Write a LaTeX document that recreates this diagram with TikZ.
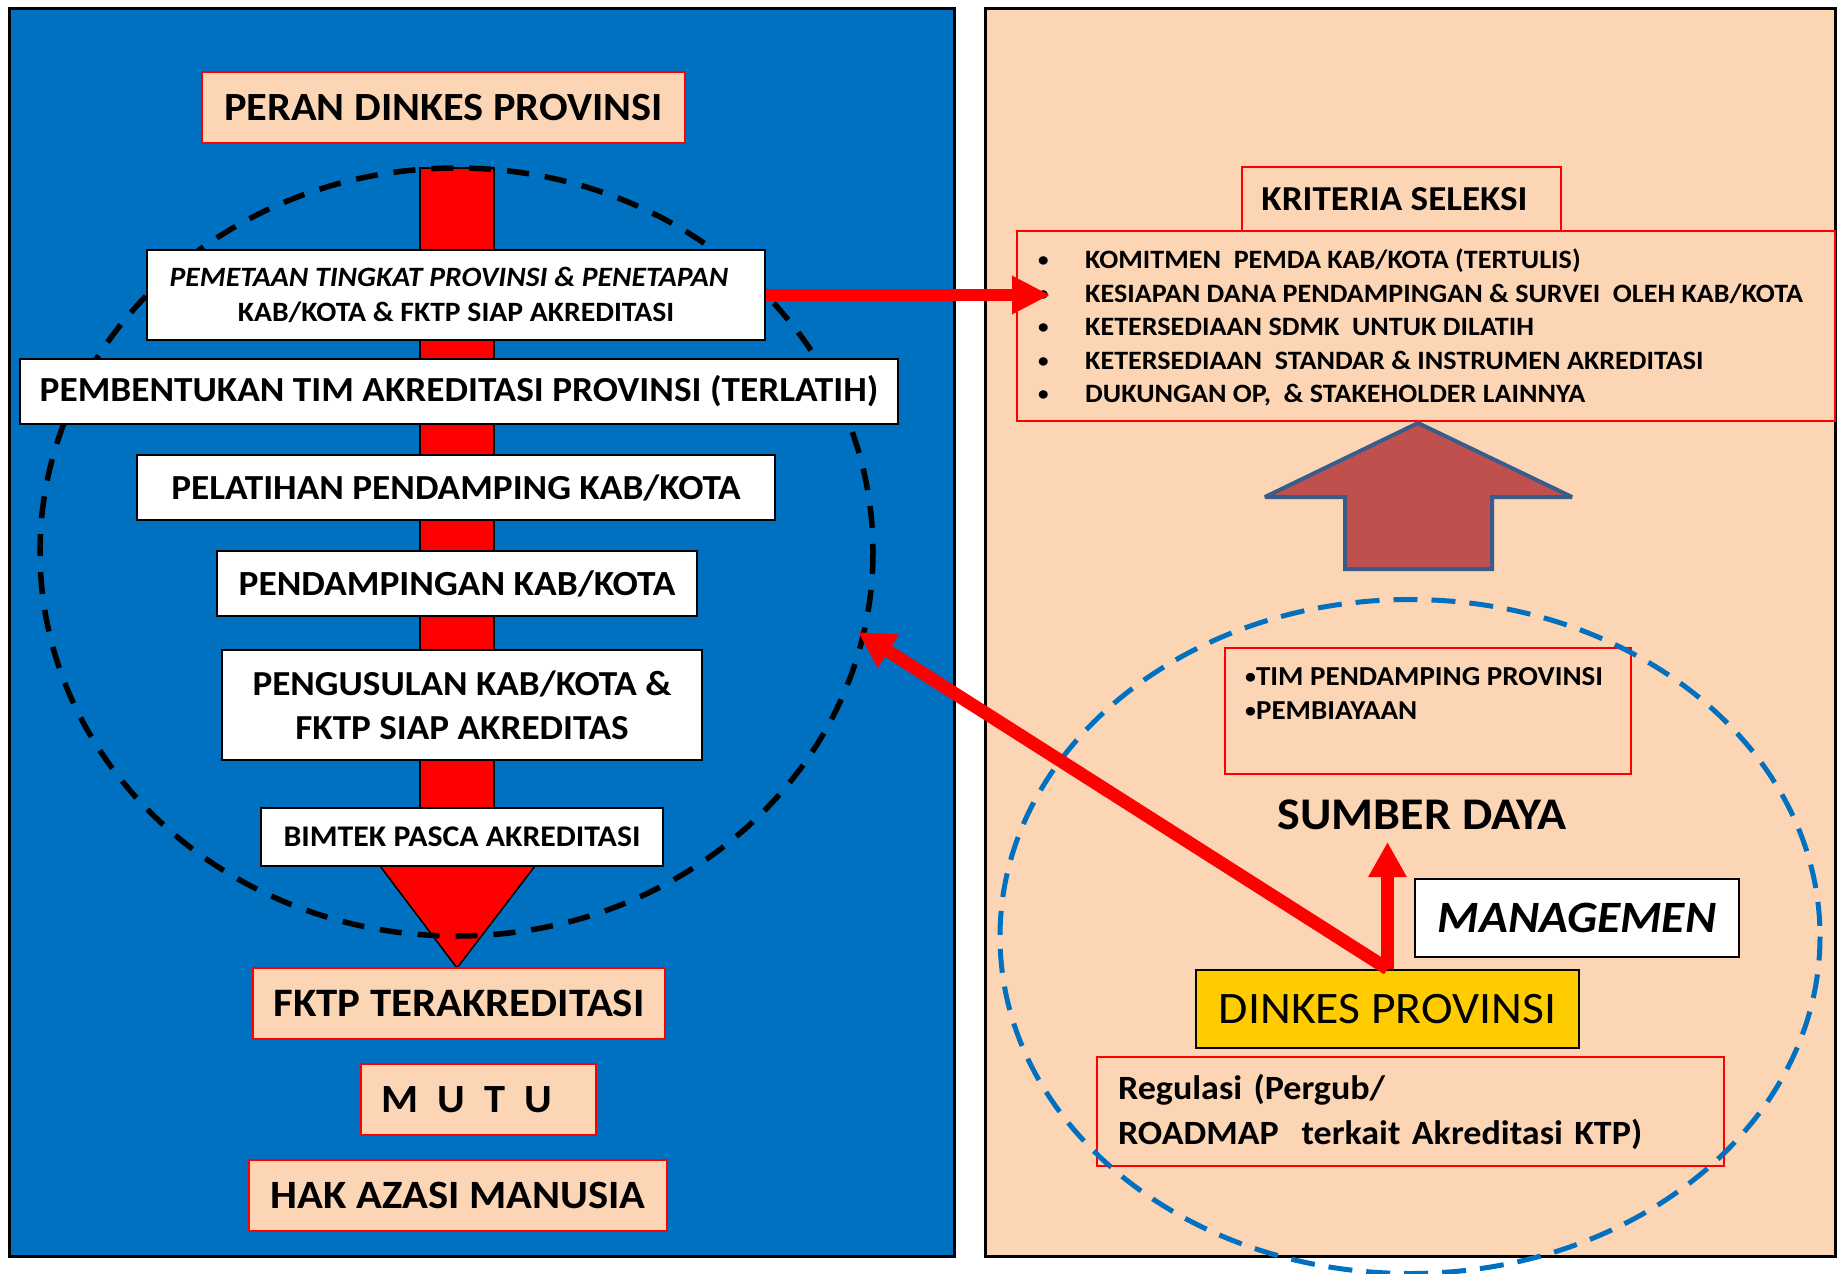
\documentclass[tikz,border=0pt]{standalone}
\usepackage{fontspec}
\setmainfont{Carlito}[FakeStretch=1.06]
\usetikzlibrary{arrows.meta,calc}
\definecolor{peach}{HTML}{FCD5B5}
\definecolor{pblue}{HTML}{0070C0}
\definecolor{gold}{HTML}{FFCC00}
\definecolor{arrowred}{HTML}{C0504D}
\definecolor{arrowblue}{HTML}{385D8A}
\newcommand\fsz[2]{\fontsize{#1}{#2}\selectfont}
\newcommand\smbul{\raisebox{1.5pt}{\scalebox{0.75}{\textbullet}}}
\begin{document}
\begin{tikzpicture}[x=1pt,y=-1pt,
 wbox/.style={draw=black,line width=2.5pt,fill=white,inner sep=0pt},
 pbox/.style={draw=red,line width=2.5pt,fill=peach,inner sep=0pt},
 rbox/.style={draw=red,line width=2pt,inner sep=0pt},
 redarrow/.style={draw=red,line width=12pt,-{Triangle[width=36pt,length=38pt]}},
]
\useasboundingbox (0,0) rectangle (1837,1274);
% panels
\draw[fill=pblue,line width=3pt] (9,8) rectangle (954,1256);
\draw[fill=peach,line width=3pt] (985,8) rectangle (1835,1256);

% left panel
\node[pbox,minimum width=483,minimum height=71,font=\bfseries\fsz{40}{48}] (peran) at (443.5,107.5) {PERAN DINKES PROVINSI};
\draw[fill=red,draw=black,line width=1.5pt] (420,168) rectangle (494,866);
\draw[fill=red,draw=black,line width=1.5pt] (380,866) -- (535,866) -- (457,968) -- cycle;
\draw[line width=5.5pt,dash pattern=on 22pt off 16pt] (456.5,552) ellipse [x radius=416.5,y radius=384];

\node[wbox,minimum width=618,minimum height=90,align=center,font=\bfseries\fsz{28}{35}] (pemetaan) at (456,295) {\textit{PEMETAAN TINGKAT PROVINSI \& PENETAPAN}\hspace*{14pt}\\KAB/KOTA \& FKTP SIAP AKREDITASI};
\node[wbox,minimum width=878,minimum height=65,font=\bfseries\fsz{35.2}{42}] (pembentukan) at (459,391.5) {PEMBENTUKAN TIM AKREDITASI PROVINSI (TERLATIH)};
\node[wbox,minimum width=638,minimum height=65,font=\bfseries\fsz{35.2}{42}] (pelatihan) at (456,487.5) {PELATIHAN PENDAMPING KAB/KOTA};
\node[wbox,minimum width=480,minimum height=65,font=\bfseries\fsz{35.3}{42}] (pendampingan) at (457,583.5) {PENDAMPINGAN KAB/KOTA};
\node[wbox,minimum width=480,minimum height=110,align=center,font=\bfseries\fsz{35.1}{44}] (pengusulan) at (462,705) {PENGUSULAN KAB/KOTA \&\\FKTP SIAP AKREDITAS};
\node[wbox,minimum width=402,minimum height=58,font=\bfseries\fsz{30}{36}] (bimtek) at (462,837) {BIMTEK PASCA AKREDITASI};

\node[pbox,minimum width=412,minimum height=71,font=\bfseries\fsz{40.4}{48}] (fktp) at (459,1003.5) {FKTP TERAKREDITASI};
\node[pbox,minimum width=235,minimum height=71,font=\bfseries\fsz{40}{48}] (mutu) at (478.5,1099.5) {M\hspace{19pt}U\hspace{19pt}T\hspace{19pt}U\hspace*{24pt}};
\node[pbox,minimum width=418,minimum height=71,font=\bfseries\fsz{40.2}{48}] (ham) at (458,1195.5) {HAK AZASI MANUSIA};

% right panel
\node[rbox,line width=2.5pt,minimum width=319,minimum height=64,font=\bfseries\fsz{35}{42}] (kriteria) at (1401.5,199) {KRITERIA SELEKSI\hspace*{14pt}};
\node[rbox,line width=2.5pt,minimum width=818,minimum height=190] (list) at (1426,326) {};
\tikzset{litem/.style={anchor=base west,inner sep=0pt,font=\bfseries\fsz{26.5}{32}}}
\node[litem] (k1) at (1038,268) {\makebox[47pt][l]{\smbul}KOMITMEN~ PEMDA KAB/KOTA (TERTULIS)};
\node[litem] (k2) at (1038,302) {\makebox[47pt][l]{\smbul}KESIAPAN DANA PENDAMPINGAN \& SURVEI~ OLEH KAB/KOTA};
\node[litem] (k3) at (1038,335) {\makebox[47pt][l]{\smbul}KETERSEDIAAN SDMK~ UNTUK DILATIH};
\node[litem] (k4) at (1038,369) {\makebox[47pt][l]{\smbul}KETERSEDIAAN~ STANDAR \& INSTRUMEN AKREDITASI};
\node[litem] (k5) at (1038,402) {\makebox[47pt][l]{\smbul}DUKUNGAN OP,~ \& STAKEHOLDER LAINNYA};

\draw[fill=arrowred,draw=arrowblue,line width=4pt,line join=miter,miter limit=2]
  (1418,423) -- (1572,497) -- (1492,497) -- (1492,569) -- (1345,569) -- (1345,497) -- (1265,497) -- cycle;

\node[rbox,minimum width=406,minimum height=126] (tim) at (1428,711) {};
\node[litem,font=\bfseries\fsz{27.4}{32}] (t1) at (1245,685) {\smbul TIM PENDAMPING PROVINSI};
\node[litem,font=\bfseries\fsz{27.4}{32}] (t2) at (1245,719) {\smbul PEMBIAYAAN};

\node[inner sep=0pt,font=\bfseries\fsz{45.3}{52}] (sumber) at (1422,815) {SUMBER DAYA};
\node[wbox,minimum width=324,minimum height=78,font=\bfseries\itshape\fsz{44.8}{52}] (manag) at (1577,918) {MANAGEMEN};
\node[draw=black,line width=2.5pt,fill=gold,inner sep=0pt,minimum width=383,minimum height=78,font=\fsz{45}{52}] (dinkes) at (1387.5,1009) {DINKES PROVINSI};
\node[rbox,text width=585pt,inner xsep=21pt,minimum height=109,align=left,font=\bfseries\fsz{34}{45}] (regulasi) at (1410.5,1111.5) {Regulasi (Pergub/\\ROADMAP~ terkait Akreditasi KTP)};

\draw[pblue,line width=5pt,dash pattern=on 24pt off 14pt] (1410,936.5) ellipse [x radius=410,y radius=337];

% arrows
\coordinate (hTip) at (1050,295);
\draw[redarrow] (pemetaan.east) -- (hTip);
\coordinate (uTip) at (1387.5,842);
\draw[draw=red,line width=13pt,-{Triangle[width=36pt,length=35pt]}] (dinkes.north) -- (uTip);
\coordinate (dTip) at (858,632);
\draw[draw=red,line width=13pt,-{Triangle[width=37pt,length=36pt]}] (dinkes.north) -- (dTip);
\end{tikzpicture}
\end{document}
